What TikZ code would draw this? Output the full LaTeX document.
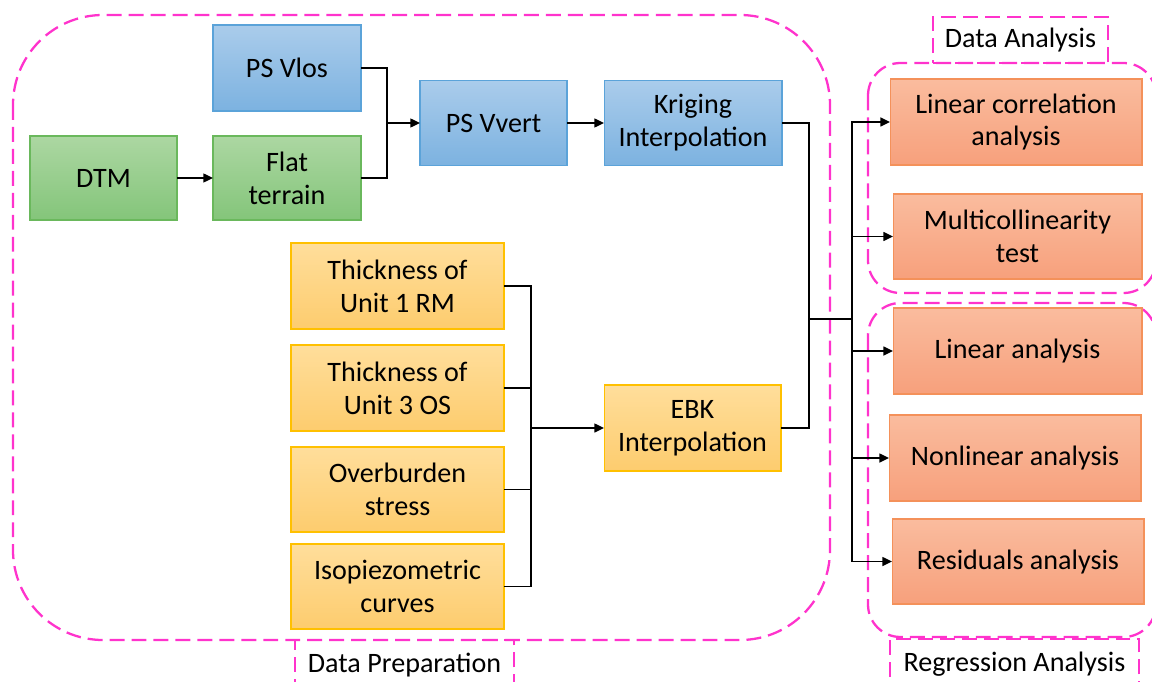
\documentclass[tikz,border=0pt]{standalone}
\usepackage{fontspec}
\setmainfont{Carlito}
\usetikzlibrary{arrows.meta}

\definecolor{bluetop}{RGB}{170,204,235}
\definecolor{bluebot}{RGB}{124,178,224}
\definecolor{blueline}{RGB}{91,163,217}
\definecolor{greentop}{RGB}{172,215,162}
\definecolor{greenbot}{RGB}{132,197,122}
\definecolor{greenline}{RGB}{106,184,92}
\definecolor{yeltop}{RGB}{255,222,155}
\definecolor{yelbot}{RGB}{253,204,110}
\definecolor{yelline}{RGB}{255,192,0}
\definecolor{orgtop}{RGB}{250,188,158}
\definecolor{orgbot}{RGB}{247,160,124}
\definecolor{orgline}{RGB}{244,145,90}
\definecolor{pinkline}{RGB}{255,51,204}

\tikzset{
	box/.style={draw, line width=0.6pt, outer sep=0pt, inner sep=1pt, align=center,
		font=\fontsize{16}{18.7}\selectfont},
	bluebox/.style={box, draw=blueline, top color=bluetop, bottom color=bluebot},
	greenbox/.style={box, draw=greenline, top color=greentop, bottom color=greenbot},
	yelbox/.style={box, draw=yelline, top color=yeltop, bottom color=yelbot},
	orgbox/.style={box, draw=orgline, top color=orgtop, bottom color=orgbot},
	conn/.style={black, line width=1.1pt},
	arr/.style={conn, -{Triangle[length=5.5pt, width=5pt]}},
	group/.style={draw=pinkline, line width=1.3pt, dash pattern=on 8.5pt off 4pt},
	grouplabel/.style={group, outer sep=0pt, inner sep=0pt, font=\fontsize{16}{18.7}\selectfont},
}

\begin{document}
\begin{tikzpicture}[x=0.02cm, y=-0.02cm]
	\useasboundingbox (0, 0) rectangle (1152, 682);
	\clip (0, 0) rectangle (1152, 682);

	% groups
	\draw[group, rounded corners=1.8cm]		(13, 15) rectangle (830, 640);
	\draw[group, rounded corners=0.65cm]	(868, 63) rectangle (1156, 293);
	\draw[group, rounded corners=0.65cm]	(868, 303) rectangle (1156, 637);

	\node[grouplabel, minimum width=3.5cm, minimum height=0.92cm]	(lbanalysis) at (1020.5, 40) {Data Analysis};
	\node[grouplabel, minimum width=4.38cm, minimum height=1.0cm]	(lbprep) at (404.5, 665) {Data Preparation};
	\node[grouplabel, minimum width=4.98cm, minimum height=1.0cm]	(lbregress) at (1014.5, 664) {Regression Analysis};

	% data preparation
	\node[greenbox, minimum width=2.94cm, minimum height=1.68cm]	(dtm) at (103.5, 178) {DTM};
	\node[greenbox, minimum width=2.96cm, minimum height=1.68cm]	(flat) at (287, 178) {Flat\\terrain};
	\node[bluebox, minimum width=2.96cm, minimum height=1.72cm]	(vlos) at (287, 68) {PS Vlos};
	\node[bluebox, minimum width=2.94cm, minimum height=1.70cm]	(vvert) at (493.5, 123) {PS Vvert};
	\node[bluebox, minimum width=3.56cm, minimum height=1.70cm]	(krig) at (693, 123) {Kriging\\Interpolation};

	\node[yelbox, minimum width=4.26cm, minimum height=1.72cm]	(thick1) at (397.5, 286) {Thickness of\\Unit 1 RM};
	\node[yelbox, minimum width=4.26cm, minimum height=1.72cm]	(thick3) at (397.5, 388) {Thickness of\\Unit 3 OS};
	\node[yelbox, minimum width=4.26cm, minimum height=1.70cm]	(overb) at (397.5, 489.5) {Overburden\\stress};
	\node[yelbox, minimum width=4.26cm, minimum height=1.70cm]	(isop) at (397.5, 586.5) {Isopiezometric\\curves};
	\node[yelbox, minimum width=3.54cm, minimum height=1.72cm]	(ebk) at (692.5, 428) {EBK\\Interpolation};

	% analysis
	\node[orgbox, minimum width=5.04cm, minimum height=1.72cm]	(lincorr) at (1016, 122) {Linear correlation\\analysis};
	\node[orgbox, minimum width=4.98cm, minimum height=1.70cm]	(multi) at (1017.5, 236.5) {Multicollinearity\\test};
	\node[orgbox, minimum width=4.98cm, minimum height=1.72cm]	(linan) at (1017.5, 351) {Linear analysis};
	\node[orgbox, minimum width=5.04cm, minimum height=1.72cm]	(nonlin) at (1015, 458) {Nonlinear analysis};
	\node[orgbox, minimum width=5.04cm, minimum height=1.70cm]	(resid) at (1018, 561.5) {Residuals analysis};

	% connectors
	\coordinate (jvel) at (387, 123);
	\coordinate (jthick) at (531, 428);
	\coordinate (jinterp) at (809, 319);
	\coordinate (jout) at (852, 319);

	\draw[arr]	(dtm) -- (flat);
	\draw[conn]	(vlos.east) -| (jvel);
	\draw[conn]	(flat.east) -| (jvel);
	\draw[arr]	(jvel) -- (vvert);
	\draw[arr]	(vvert) -- (krig);

	\foreach \n in {thick1, thick3, overb, isop}
		\draw[conn]	(\n.east) -| (jthick);
	\draw[arr]	(jthick) -- (ebk);

	\draw[conn]	(krig.east) -| (jinterp);
	\draw[conn]	(ebk.east) -| (jinterp);
	\draw[conn]	(jinterp) -- (jout);

	\foreach \n in {lincorr, multi, linan, nonlin, resid}
		\draw[arr]	(jout) |- (\n.west);
\end{tikzpicture}
\end{document}
